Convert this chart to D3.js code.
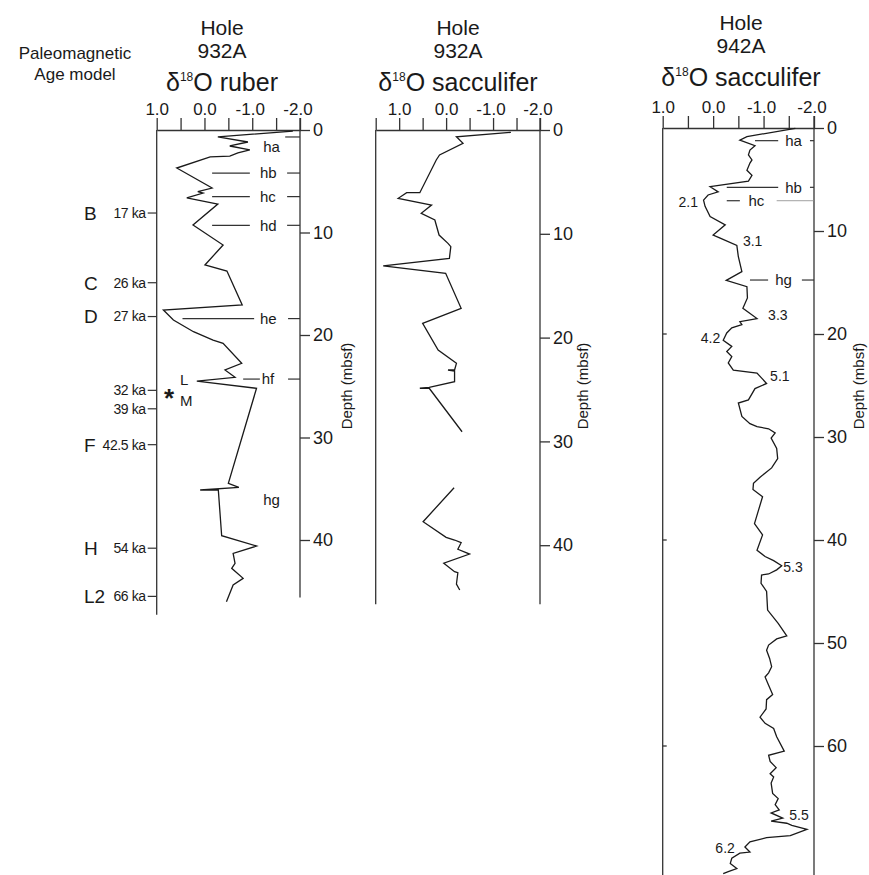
<!DOCTYPE html>
<html>
<head>
<meta charset="utf-8">
<script src="https://cdn.jsdelivr.net/npm/d3@7"></script>
<style>
  body { margin: 0; background: #fff; }
  svg { font-family: Arial, "Liberation Sans", Helvetica, sans-serif; }
</style>
</head>
<body>
<svg width="869" height="875"></svg>
<script>
// ---- data: [depth (mbsf), d18O (permil)] ----
const ruber932A = [
  [0.1,-1.85],[0.68,-0.28],[1.17,-0.91],[1.56,-0.53],[1.95,-0.95],[2.24,-0.70],[2.54,-0.53],
  [2.63,-0.12],[3.71,0.58],[5.66,-0.16],[6.02,0.14],[6.15,0.03],[6.63,0.37],[7.22,-0.28],
  [9.27,0.24],[11.22,-0.39],[13.17,-0.01],[13.76,-0.47],[17.07,-0.79],[17.56,0.86],[18.54,0.65],
  [19.68,0.23],[20.49,-0.18],[20.81,-0.39],[22.76,-0.78],[23.41,-0.43],[24.13,-0.64],[24.49,0.16],
  [25.2,-1.09],[34.47,-0.50],[34.86,-0.72],[35.12,0.09],[35.12,-0.29],[39.58,-0.36],[40.59,-1.09],
  [41.3,-0.60],[42.27,-0.64],[42.76,-0.57],[43.74,-0.81],[44.39,-0.60],[46.02,-0.46]
]

const sacc932A_upper = [
  [0.22,-1.38],[0.65,-0.22],[1.28,-0.36],[2.41,0.14],[2.89,0.21],[6.04,0.56],[6.04,0.84],
  [6.58,1.02],[7.23,0.31],[8.02,0.53],[8.67,0.24],[10.12,0.15],[10.92,-0.04],[11.24,-0.10],
  [12.36,-0.07],[13.10,1.34],[13.81,0.01],[17.18,-0.32],[18.62,0.50],[21.19,0.17],[22.48,-0.22],
  [23.12,-0.18],[23.12,-0.04],[23.22,-0.18],[24.25,-0.18],[24.79,0.36],[24.88,0.56],[24.88,0.36],
  [29.07,-0.34]
]
const sacc932A_lower = [
  [34.46,-0.17],[37.74,0.49],[39.24,0.0],[39.50,-0.18],[39.76,-0.32],[40.39,-0.25],[40.85,-0.50],
  [41.74,0.05],[42.55,-0.18],[42.65,-0.25],[43.74,-0.22],[44.32,-0.29]
]

const sacc942A = [
  [0.03,-1.63],[0.84,-0.67],[1.17,-0.53],[1.72,-0.83],[2.14,-0.73],[2.6,-0.70],[3.1,-0.77],
  [3.4,-0.73],[4.1,-0.67],[4.6,-0.77],[5.15,-0.70],[5.7,0.06],[6.2,-0.10],[6.5,0.10],[7.0,0.19],
  [7.6,0.16],[8.6,0.06],[9.4,-0.24],[10.4,0.0],[10.7,-0.14],[11.4,-0.47],[12.5,-0.50],
  [13.95,-0.57],[14.8,-0.26],[15.4,-0.67],[16.5,-0.68],[17.5,-0.59],[18.5,-0.87],[18.8,-0.53],
  [19.1,-0.57],[19.4,-0.37],[19.9,-0.27],[20.6,-0.20],[21.2,-0.37],[21.7,-0.27],[22.2,-0.37],
  [22.8,-0.30],[23.5,-0.40],[23.8,-0.87],[24.8,-1.06],[25.3,-0.83],[26.4,-0.70],[26.7,-0.50],
  [28.0,-0.57],[28.7,-0.73],[29.0,-0.87],[29.2,-1.10],[29.6,-1.23],[30.1,-1.15],[31.1,-1.26],
  [32.1,-1.28],[33.0,-1.16],[33.9,-0.93],[34.5,-0.80],[35.1,-0.79],[35.8,-0.98],[37.1,-0.90],
  [38.4,-0.82],[39.5,-0.98],[41.0,-0.87],[41.6,-1.03],[42.0,-1.20],[42.5,-1.36],[42.9,-1.26],
  [43.3,-1.10],[43.4,-0.96],[44.2,-0.95],[45.0,-1.06],[46.8,-1.08],[48.1,-1.29],[49.3,-1.46],
  [49.6,-1.26],[50.2,-1.10],[50.7,-1.06],[51.5,-1.12],[52.3,-1.16],[52.9,-1.10],[53.3,-1.03],
  [54.1,-1.10],[55.0,-1.18],[55.5,-1.06],[56.4,-1.05],[57.2,-0.93],[57.8,-1.03],[58.3,-1.20],
  [59.1,-1.26],[60.5,-1.41],[60.9,-1.10],[61.5,-1.13],[62.1,-1.25],[62.7,-1.13],[63.0,-1.20],
  [63.6,-1.15],[64.6,-1.18],[65.1,-1.29],[65.7,-1.23],[66.2,-1.31],[66.5,-1.15],[67.0,-1.38],
  [67.3,-1.15],[67.5,-1.46],[67.7,-1.56],[68.1,-1.86],[68.7,-1.53],[68.9,-1.06],[69.3,-0.73],
  [69.8,-0.63],[70.3,-0.73],[70.4,-0.53],[70.9,-0.37],[71.4,-0.34],[71.9,-0.47],[72.2,-0.30],
  [72.4,-0.20]
]

// paleomagnetic age model (Hole 932A)
const ageLetters = ["B", "C", "D", "", "", "F", "H", "L2"]
const ageLabels = ["17 ka", "26 ka", "27 ka", "32 ka", "39 ka", "42.5 ka", "54 ka", "66 ka"]
const ageDepths = [8.1, 14.9, 18.2, 25.4, 27.2, 30.7, 40.8, 45.5]

// horizons: name, depth, line pieces in d18O units, label position
const horizons932A = [
  {name:"ha", depth:0.68, segs:[[-1.69,-2.0]], at:-1.23, labelDepth:1.66},
  {name:"hb", depth:4.2, segs:[[-0.16,-0.95],[-1.73,-2.0]], at:-1.16},
  {name:"hc", depth:6.5, segs:[[-0.16,-0.95],[-1.73,-2.0]], at:-1.16},
  {name:"hd", depth:9.3, segs:[[-0.16,-0.95],[-1.73,-2.0]], at:-1.16},
  {name:"he", depth:18.4, segs:[[0.46,-1.04],[-1.75,-2.0]], at:-1.16},
  {name:"hf", depth:24.3, segs:[[-0.81,-1.16],[-1.75,-2.0]], at:-1.2},
  {name:"hg", depth:36.1, segs:[], at:-1.23}
]
const horizons942A = [
  {name:"ha", depth:1.23, segs:[[-0.83,-1.29],[-1.92,-2.0]], at:-1.43},
  {name:"hb", depth:5.76, segs:[[-0.27,-1.29],[-1.92,-2.0]], at:-1.43},
  {name:"hc", depth:7.06, segs:[[-0.27,-0.53]], thin:[[-1.26,-2.0]], at:-0.70},
  {name:"hg", depth:14.76, segs:[[-0.73,-1.09],[-1.76,-2.0]], at:-1.23}
]

// isotope stages, Hole 942A
const stageNames = ["2.1", "3.1", "3.3", "4.2", "5.1", "5.3", "5.5", "6.2"]
const stageDepths = [7.2, 11.0, 18.2, 20.4, 24.1, 42.6, 66.7, 69.9]
const stageAt = [0.30, -0.59, -1.09, -0.14, -1.13, -1.39, -1.51, -0.43]
const stageEnd = [true, false, false, true, false, false, false, true]

const svg = d3.select("svg")
const ink = "#1a1a1a", axisInk = "#333"

const panels = [
  {hole:"932A", species:"ruber", lines:[ruber932A], xDomain:[1.0,-2.0], xRange:[156.7,300],
   top:130, pxPerM:10.25, leftEnd:47.3, rightEnd:45.6, depthTicks:[0,10,20,30,40],
   titleX:222, titleY:35, labelX:352, horizons:horizons932A},
  {hole:"932A", species:"sacculifer", lines:[sacc932A_upper, sacc932A_lower], xDomain:[1.5,-2.0], xRange:[375.7,540],
   top:130, pxPerM:10.38, leftEnd:45.7, rightEnd:45.7, depthTicks:[0,10,20,30,40],
   titleX:458, titleY:35, labelX:588, horizons:[]},
  {hole:"942A", species:"sacculifer", lines:[sacc942A], xDomain:[1.0,-2.0], xRange:[662.7,814],
   top:128, pxPerM:10.3, leftEnd:72.6, rightEnd:72.6, depthTicks:[0,10,20,30,40,50,60],
   titleX:741, titleY:30, labelX:864, horizons:horizons942A, innerTicks:[20,40,60]}
]

panels.forEach(function(p) {
  const x = d3.scaleLinear().domain(p.xDomain).range(p.xRange)
  const y = d3.scaleLinear().domain([0, 10]).range([p.top, p.top + 10 * p.pxPerM])
  const g = svg.append("g")

  // titles
  const t = g.append("g").attr("text-anchor", "middle").attr("fill", ink)
  t.append("text").attr("x", p.titleX).attr("y", p.titleY).attr("font-size", 21).text("Hole")
  t.append("text").attr("x", p.titleX).attr("y", p.titleY + 23).attr("font-size", 21).text(p.hole)
  const tt = t.append("text").attr("x", p.titleX).attr("y", p.titleY + 56).attr("font-size", 25)
  tt.append("tspan").text("δ")
  tt.append("tspan").attr("font-size", 12).attr("dy", -10).text("18")
  tt.append("tspan").attr("dy", 10).text("O " + p.species)

  // top axis, ticks every 0.5
  const tv = d3.range(p.xDomain[0], p.xDomain[1] - 0.01, -0.5)
  const ax = g.append("g").attr("transform", "translate(0," + p.top + ")")
    .call(d3.axisTop(x).tickValues(tv).tickSize(12).tickSizeOuter(0).tickPadding(3)
      .tickFormat(v => Math.abs(v % 1) < 1e-9 ? v.toFixed(1) : ""))
  ax.selectAll("path,line").attr("stroke", axisInk).attr("stroke-width", 1.3)
  ax.selectAll("text").attr("font-size", 17).attr("fill", ink).attr("font-family", null)
    .attr("dx", v => v < 0 ? "-0.15em" : null)

  // vertical axes
  g.append("line").attr("x1", p.xRange[0]).attr("x2", p.xRange[0])
    .attr("y1", p.top).attr("y2", y(p.leftEnd)).attr("stroke", axisInk).attr("stroke-width", 1.3)
  const ay = g.append("g").attr("transform", "translate(" + p.xRange[1] + ",0)")
    .call(d3.axisRight(y).tickValues(p.depthTicks).tickSize(10).tickPadding(3))
  ay.select(".domain").remove()
  ay.selectAll("line").attr("stroke", axisInk).attr("stroke-width", 1.3)
  ay.selectAll("text").attr("font-size", 18).attr("fill", ink).attr("font-family", null)
  g.append("line").attr("x1", p.xRange[1]).attr("x2", p.xRange[1])
    .attr("y1", p.top - 12).attr("y2", y(p.rightEnd)).attr("stroke", axisInk).attr("stroke-width", 1.3)

  if (p.innerTicks) {
    g.selectAll(".inner").data(p.innerTicks).enter().append("line")
      .attr("x1", p.xRange[0]).attr("x2", p.xRange[0] + 4)
      .attr("y1", d => y(d)).attr("y2", d => y(d)).attr("stroke", axisInk).attr("stroke-width", 1.3)
  }

  g.append("text").attr("transform", "translate(" + p.labelX + ",386) rotate(-90)")
    .attr("text-anchor", "middle").attr("font-size", 15).attr("fill", ink).text("Depth (mbsf)")

  // isotope curve
  const line = d3.line().x(d => x(d[1])).y(d => y(d[0]))
  g.selectAll(".curve").data(p.lines).enter().append("path")
    .attr("d", line).attr("fill", "none").attr("stroke", ink).attr("stroke-width", 1.3)
    .attr("stroke-linejoin", "miter")

  // horizons
  p.horizons.forEach(function(h) {
    h.segs.forEach(function(s) {
      g.append("line").attr("x1", x(s[0])).attr("x2", x(s[1]))
        .attr("y1", y(h.depth)).attr("y2", y(h.depth)).attr("stroke", axisInk).attr("stroke-width", 1.2)
    })
    ;(h.thin || []).forEach(function(s) {
      g.append("line").attr("x1", x(s[0])).attr("x2", x(s[1]))
        .attr("y1", y(h.depth)).attr("y2", y(h.depth)).attr("stroke", "#888").attr("stroke-width", 0.8)
    })
    g.append("text").attr("x", x(h.at)).attr("y", y(h.labelDepth || h.depth)).attr("dy", "0.35em")
      .attr("font-size", 15).attr("fill", ink).text(h.name)
  })

  p.x = x
  p.y = y
})

// age model, left of Hole 932A ruber
const pr = panels[0]
const gl = svg.append("g").attr("fill", ink)
gl.append("text").attr("x", 75).attr("y", 59).attr("text-anchor", "middle").attr("font-size", 17).text("Paleomagnetic")
gl.append("text").attr("x", 75).attr("y", 80).attr("text-anchor", "middle").attr("font-size", 17).text("Age model")
ageDepths.forEach(function(d, i) {
  const yy = pr.y(d)
  gl.append("line").attr("x1", pr.xRange[0] - 9).attr("x2", pr.xRange[0]).attr("y1", yy).attr("y2", yy)
    .attr("stroke", axisInk).attr("stroke-width", 1.2)
  gl.append("text").attr("x", pr.xRange[0] - 11).attr("y", yy).attr("dy", "0.35em")
    .attr("text-anchor", "end").attr("font-size", 14).attr("letter-spacing", -0.4).text(ageLabels[i])
  if (ageLetters[i]) gl.append("text").attr("x", 84).attr("y", yy).attr("dy", "0.36em")
    .attr("font-size", 19).text(ageLetters[i])
})
// Laschamp / Mono Lake marker
gl.append("text").attr("x", 169).attr("y", pr.y(27.0)).attr("text-anchor", "middle")
  .attr("font-size", 26).attr("font-weight", "bold").text("*")
gl.append("text").attr("x", 180).attr("y", pr.y(24.9)).attr("font-size", 15).text("L")
gl.append("text").attr("x", 180).attr("y", pr.y(26.9)).attr("font-size", 15).text("M")

// isotope stage numbers, Hole 942A
const ps = panels[2]
svg.append("g").attr("fill", ink).selectAll("text").data(stageNames).enter().append("text")
  .attr("x", (d, i) => ps.x(stageAt[i])).attr("y", (d, i) => ps.y(stageDepths[i])).attr("dy", "0.35em")
  .attr("text-anchor", (d, i) => stageEnd[i] ? "end" : "start")
  .attr("font-size", 14).text(d => d)
</script>
</body>
</html>
